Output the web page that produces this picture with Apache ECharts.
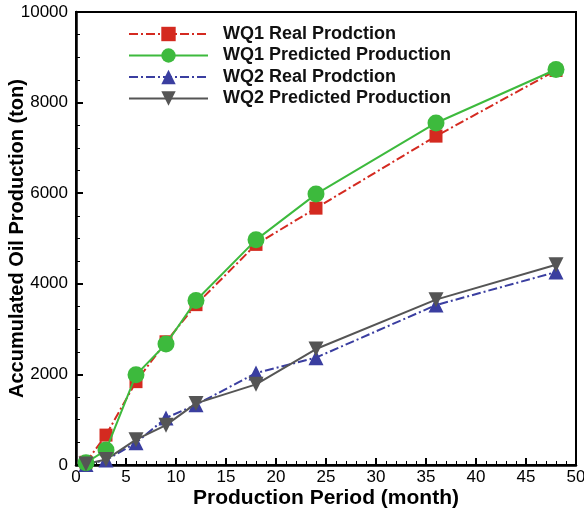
<!DOCTYPE html>
<html><head><meta charset="utf-8">
<script src="https://cdn.jsdelivr.net/npm/echarts@6/dist/echarts.min.js"></script>
<style>html,body{margin:0;padding:0;background:#fff}#c{width:584px;height:513px}</style>
</head><body><div id="c"></div>
<script>
const months = [1, 3, 6, 9, 12, 18, 24, 36, 48];
const wq1Real = [60, 660, 1840, 2720, 3540, 4870, 5670, 7260, 8710];
const wq1Pred = [50, 330, 1990, 2670, 3630, 4970, 5980, 7550, 8730];
const wq2Real = [10, 110, 490, 1040, 1330, 2030, 2370, 3530, 4260];
const wq2Pred = [20, 120, 560, 880, 1360, 1780, 2560, 3650, 4420];
const names = ['WQ1 Real Prodction', 'WQ1 Predicted Production', 'WQ2 Real Prodction', 'WQ2 Predicted Production'];
const yTicks = [0, 2000, 4000, 6000, 8000, 10000];

const dashDot = [9, 3, 2, 3];
function pairs(v){ return months.map((m,i)=>[m, v[i]]); }
const chart = echarts.init(document.getElementById('c'), null, {renderer:'canvas'});
const font = "'Liberation Sans', Arial, sans-serif";
chart.setOption({
  animation:false,
  textStyle:{fontFamily:font},
  grid:{left:76, right:8, top:12, bottom:48, outerBoundsMode:'none', containLabel:false,
        show:true, borderColor:'#000', borderWidth:2, backgroundColor:'transparent'},
  legend:{
    orient:'vertical', left:123, top:20, itemGap:3.5, itemWidth:79, itemHeight:18,
    data:names,
    textStyle:{fontSize:18, fontWeight:'bold', color:'#111', padding:[0,0,0,10], fontFamily:font}
  },
  xAxis:{
    type:'value', min:0, max:50, interval:5,
    name:'Production Period (month)', nameLocation:'middle', nameGap:23, nameMoveOverlap:false,
    nameTextStyle:{fontSize:21, fontWeight:'bold', color:'#000', fontFamily:font},
    axisLine:{onZero:false, lineStyle:{color:'#000', width:2.5}},
    axisTick:{inside:true, length:7, lineStyle:{width:2, color:'#000'}},
    minorTick:{show:true, splitNumber:5, length:4, lineStyle:{color:'#000', width:1}},
    axisLabel:{fontSize:17, color:'#000', margin:4},
    splitLine:{show:false}
  },
  yAxis:{
    type:'value', min:0, max:10000, interval:2000,
    name:'Accumulated Oil Production (ton)', nameLocation:'middle', nameGap:49, nameMoveOverlap:false,
    nameTextStyle:{fontSize:20, fontWeight:'bold', color:'#000', fontFamily:font},
    axisLine:{onZero:false, lineStyle:{color:'#000', width:2.5}},
    axisTick:{inside:true, length:7, lineStyle:{width:2, color:'#000'}},
    minorTick:{show:true, splitNumber:4, length:4, lineStyle:{color:'#000', width:1}},
    axisLabel:{fontSize:17, color:'#000', margin:8, formatter:v=>yTicks.includes(v)?String(v):''},
    splitLine:{show:false}
  },
  series:[
    {name:names[0], type:'line', data:pairs(wq1Real), symbol:'rect', symbolSize:13,
     itemStyle:{color:'#d42a20'}, lineStyle:{color:'#d42a20', width:2, type:dashDot}, z:2},
    {name:names[1], type:'line', data:pairs(wq1Pred), symbol:'circle', symbolSize:17,
     itemStyle:{color:'#3dba3d'}, lineStyle:{color:'#3dba3d', width:2}, z:3},
    {name:names[2], type:'line', data:pairs(wq2Real), symbol:'triangle', symbolSize:15,
     itemStyle:{color:'#3a3ea0'}, lineStyle:{color:'#3a3ea0', width:2, type:dashDot}, z:2},
    {name:names[3], type:'line', data:pairs(wq2Pred), symbol:'triangle', symbolRotate:180, symbolSize:15,
     itemStyle:{color:'#555555'}, lineStyle:{color:'#555555', width:2}, z:3}
  ]
});
</script></body></html>
